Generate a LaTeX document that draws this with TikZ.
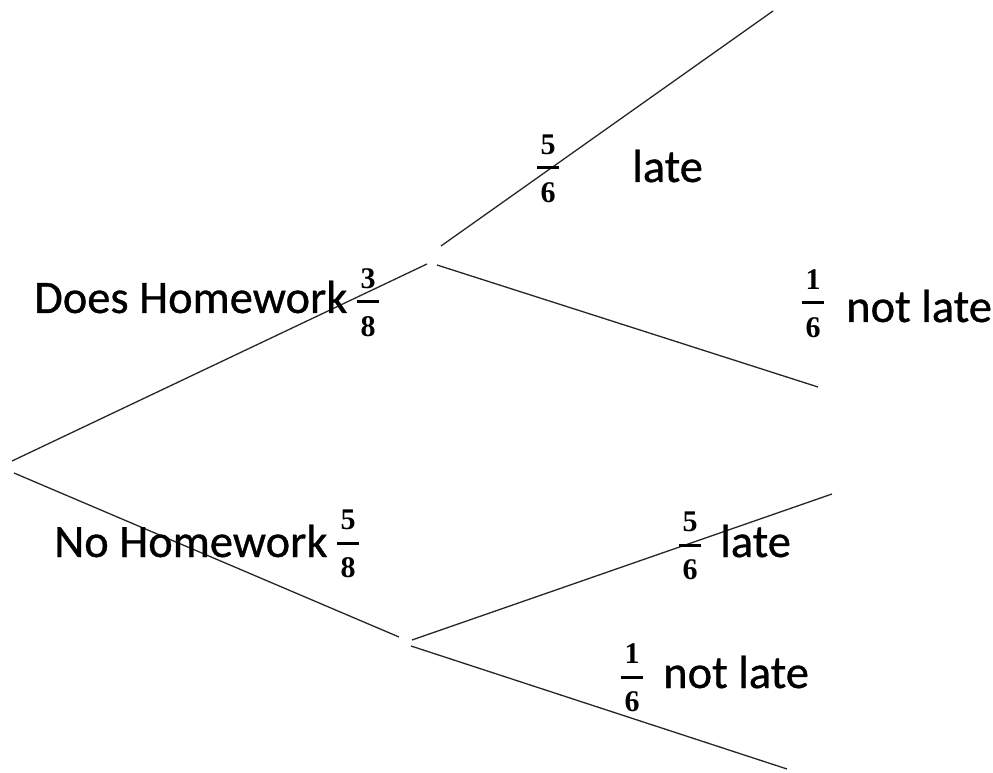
\documentclass[tikz,border=0pt]{standalone}
\usepackage{fontspec}
\setmainfont{Carlito}
\newfontfamily\labelfont[FakeBold=0.7]{Carlito}
\newfontfamily\digitfont{Liberation Serif}
\tikzset{
  branch/.style={line width=1.3pt, draw=black!85},
  lbl/.style={anchor=base west, inner sep=0pt, font=\labelfont\fontsize{46.5}{50}\selectfont},
  dig/.style={anchor=center, inner sep=0pt, font=\digitfont\bfseries\fontsize{30}{32}\selectfont},
  fbar/.style={line width=3pt}
}
\newcommand{\myfrac}[5]{%
  \coordinate (#1) at (#2,#3);
  \node[dig] (#1n) at ([yshift=23pt]#1) {#4};
  \node[dig] (#1d) at ([yshift=-25pt]#1) {#5};
  \draw[fbar] ([xshift=-11pt]#1) -- ([xshift=11pt]#1);
}
\begin{document}
\begin{tikzpicture}[x=1pt,y=1pt]
\useasboundingbox (0,0) rectangle (993,772);
% branch end points (y = 772 - pixel row)
\coordinate (r1) at (12,311);
\coordinate (a1) at (427,508);
\coordinate (r2) at (14,299);
\coordinate (b1) at (399,135);
\coordinate (a2) at (441,526);
\coordinate (aL) at (773,761);
\coordinate (a3) at (437,507);
\coordinate (aN) at (818,385);
\coordinate (b2) at (412,132);
\coordinate (bL) at (832,278);
\coordinate (b3) at (411,126);
\coordinate (bN) at (787,3);
\draw[branch] (r1) -- (a1);
\draw[branch] (r2) -- (b1);
\draw[branch] (a2) -- (aL);
\draw[branch] (a3) -- (aN);
\draw[branch] (b2) -- (bL);
\draw[branch] (b3) -- (bN);
% labels
\node[lbl] (t1) at (34,459) {Does Homework};
\myfrac{f1}{368}{470}{3}{8}
\node[lbl] (t2) at (54,215) {No Homework};
\myfrac{f2}{348}{229}{5}{8}
\myfrac{f3}{548}{604}{5}{6}
\node[lbl] (t3) at (632,590) {late};
\myfrac{f4}{813}{469}{1}{6}
\node[lbl] (t4) at (846,450) {not late};
\myfrac{f5}{690}{227}{5}{6}
\node[lbl] (t5) at (720,215) {late};
\myfrac{f6}{632}{95}{1}{6}
\node[lbl] (t6) at (663,84) {not late};
\end{tikzpicture}
\end{document}
